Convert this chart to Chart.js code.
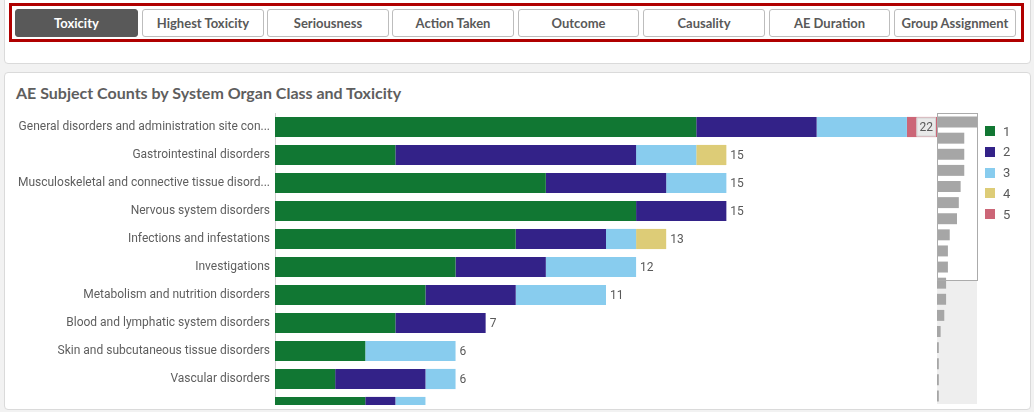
<!DOCTYPE html>
<html><head><meta charset="utf-8">
<script src="https://cdn.jsdelivr.net/npm/chart.js@4/dist/chart.umd.min.js"></script>
<style>
html,body{margin:0;padding:0;width:1034px;height:412px;overflow:hidden;background:#f2f2f2;font-family:Lato,sans-serif;}
.panel{position:absolute;background:#fff;border:1px solid #dadada;border-radius:4px;box-sizing:border-box;}
#p1{left:4px;top:-6px;width:1027px;height:70px;}
#p2{left:4px;top:72px;width:1027px;height:338px;}
#redbox{position:absolute;left:9px;top:3px;width:1015px;height:39px;border:3px solid #b00000;box-sizing:border-box;}
.btn{position:absolute;top:9px;height:28px;box-sizing:border-box;border:1px solid #bdbdbd;border-radius:3px;background:#fff;color:#595959;font:bold 13px Lato,sans-serif;display:flex;align-items:center;justify-content:center;white-space:nowrap;overflow:hidden;text-overflow:ellipsis;}
.btn.active{background:#595959;color:#fff;border-color:#595959;}
#title{position:absolute;left:16px;top:83px;font:bold 16px Lato,sans-serif;color:#5e5e5e;white-space:nowrap;}
#mainWrap{position:absolute;left:0;top:113px;width:937px;height:292px;overflow:hidden;}
#miniBg{position:absolute;left:937px;top:114px;width:40px;height:290px;background:linear-gradient(#fff 0,#fff 166px,#eeeeee 166px,#eeeeee 100%);}
#miniWrap{position:absolute;left:937px;top:114px;width:40px;height:290px;}
#miniWin{position:absolute;left:937px;top:113px;width:41px;height:168px;border:1px solid #ababab;box-sizing:border-box;pointer-events:none;}
.leg{position:absolute;left:985px;height:12px;font:13px Roboto,sans-serif;color:#595959;display:flex;align-items:center;}
.leg span.sw{display:inline-block;width:10px;height:10px;margin-right:8px;}
</style></head>
<body>
<div class="panel" id="p1"></div>
<div id="redbox"></div>
<div id="buttons"></div>
<div class="panel" id="p2"></div>
<div id="title">AE Subject Counts by System Organ Class and Toxicity</div>
<div id="mainWrap"><canvas id="main" width="937" height="308"></canvas></div>
<div id="miniBg"></div>
<div id="miniWrap"><canvas id="mini" width="40" height="290"></canvas></div>
<div id="miniWin"></div>
<div id="legend"></div>
<script>
// ---- data ----
const buttonLabels = ["Toxicity","Highest Toxicity","Seriousness","Action Taken","Outcome","Causality","AE Duration","Group Assignment"];
const activeButton = 0;
const categories = [
  "General disorders and administration site conditions",
  "Gastrointestinal disorders",
  "Musculoskeletal and connective tissue disorders",
  "Nervous system disorders",
  "Infections and infestations",
  "Investigations",
  "Metabolism and nutrition disorders",
  "Blood and lymphatic system disorders",
  "Skin and subcutaneous tissue disorders",
  "Vascular disorders",
  "" // 11th row is only partly visible, its label is not shown
];
const tox1 = [14, 4, 9, 12, 8, 6, 5, 4, 3, 2, 3];
const tox2 = [ 4, 8, 4,  3, 3, 3, 3, 3, 0, 3, 1];
const tox3 = [ 3, 2, 2,  0, 1, 3, 3, 0, 3, 1, 1];
const tox4 = [ 0, 1, 0,  0, 1, 0, 0, 0, 0, 0, 0];
const tox5 = [ 1, 0, 0,  0, 0, 0, 0, 0, 0, 0, 0];
const seriesNames = ["1","2","3","4","5"];
const seriesColors = ["#117733","#332288","#88CCEE","#DDCC77","#CC6677"];
// totals of all 18 organ classes shown in the scroll overview
const overviewTotals = [22,15,15,15,13,12,11,7,6,6,5,5,4,2,1,1,1,1];
const xMax = 22;
const visibleHeight = 292;

// ---- buttons ----
const btnLefts = [15,142,267,392,518,643,769,894];
const btnWidths = [123,122,122,122,121,122,121,122];
const bc = document.getElementById('buttons');
buttonLabels.forEach((b,i)=>{
  const d=document.createElement('div');
  d.className='btn'+(i===activeButton?' active':'');
  d.style.left=btnLefts[i]+'px'; d.style.width=btnWidths[i]+'px';
  d.textContent=b; bc.appendChild(d);
});

// ---- legend ----
const lg=document.getElementById('legend');
seriesNames.forEach((n,i)=>{
  const d=document.createElement('div'); d.className='leg';
  d.style.top=(125+i*20.75)+'px';
  d.innerHTML='<span class="sw" style="background:'+seriesColors[i]+'"></span>'+n;
  lg.appendChild(d);
});

// ---- label truncation ----
const mctx=document.createElement('canvas').getContext('2d');
mctx.font='12px Roboto';
function trunc(s,maxW){
  if(mctx.measureText(s).width<=maxW) return s;
  let t=s;
  while(t.length>0 && mctx.measureText(t+'...').width>maxW) t=t.slice(0,-1);
  return t+'...';
}

const totalsPlugin={
  id:'totals',
  afterDatasetsDraw(chart){
    const {ctx,chartArea,scales:{x,y}}=chart;
    ctx.save();
    ctx.font='12px Roboto';
    ctx.textBaseline='middle';
    categories.forEach((c,i)=>{
      const py=y.getPixelForValue(i);
      if(py+10>visibleHeight) return; // partly visible row: no label
      const total=chart.data.datasets.reduce((s,d)=>s+(d.data[i]||0),0);
      const px=x.getPixelForValue(total);
      const txt=String(total);
      const w=ctx.measureText(txt).width;
      if(px+4+w>chartArea.right){
        const bw=w+6,bh=19;
        ctx.fillStyle='#e9e9e9';
        ctx.fillRect(px-bw-1,py-bh/2,bw,bh);
        ctx.strokeStyle='#d4d4d4'; ctx.lineWidth=1;
        ctx.strokeRect(px-bw-0.5,py-bh/2+0.5,bw-1,bh-1);
        ctx.fillStyle='#595959'; ctx.textAlign='center';
        ctx.fillText(txt,px-1-bw/2,py+0.5);
      } else {
        ctx.fillStyle='#595959'; ctx.textAlign='left';
        ctx.fillText(txt,px+4,py+0.5);
      }
    });
    ctx.restore();
  }
};

const seriesData=[tox1,tox2,tox3,tox4,tox5];
new Chart(document.getElementById('main'),{
  type:'bar',
  data:{
    labels:categories,
    datasets:seriesData.map((d,i)=>({label:seriesNames[i],data:d,backgroundColor:seriesColors[i],borderWidth:0,barPercentage:0.72,categoryPercentage:1}))
  },
  options:{
    indexAxis:'y',responsive:false,animation:false,devicePixelRatio:1,
    layout:{padding:0},
    plugins:{legend:{display:false},tooltip:{enabled:false}},
    scales:{
      x:{stacked:true,display:false,min:0,max:xMax},
      y:{stacked:true,
        grid:{display:false,drawTicks:false},
        border:{display:true,color:'#cfcfcf',width:1},
        ticks:{autoSkip:false,color:'#5e5e5e',font:{family:'Roboto',size:12},padding:5,
          callback(v,i){return trunc(categories[i],253);}},
        afterFit(s){s.width=275;s.paddingTop=0;s.paddingBottom=0;}
      }
    }
  },
  plugins:[totalsPlugin]
});

new Chart(document.getElementById('mini'),{
  type:'bar',
  data:{labels:overviewTotals.map((_,i)=>String(i+1)),
    datasets:[{data:overviewTotals,backgroundColor:'#a6a6a6',borderWidth:0,barPercentage:0.68,categoryPercentage:1}]},
  options:{indexAxis:'y',responsive:false,animation:false,devicePixelRatio:1,
    layout:{padding:0},
    plugins:{legend:{display:false},tooltip:{enabled:false}},
    scales:{x:{display:false,min:0,max:xMax},y:{display:false}}}
});
</script>
</body></html>
